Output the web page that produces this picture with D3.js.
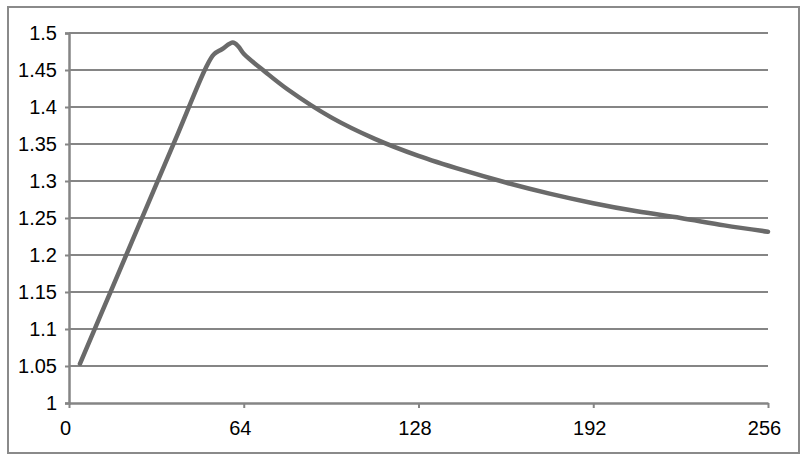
<!DOCTYPE html>
<html>
<head>
<meta charset="utf-8">
<script src="https://cdn.jsdelivr.net/npm/d3@7"></script>
<style>
  html, body { margin: 0; padding: 0; background: #fff; }
  svg { display: block; }
  text { font-family: "Liberation Sans", Arial, sans-serif; fill: #000; }
</style>
</head>
<body>
<svg id="chart" width="803" height="455"></svg>
<script>
// Data
const xValues = [4, 16, 28, 40, 50, 53, 56, 60, 62, 64, 72, 80, 96, 112, 128, 144, 160, 176, 192, 208, 224, 240, 256];
const yValues = [1.053, 1.157, 1.261, 1.365, 1.452, 1.471, 1.478, 1.487, 1.482, 1.472, 1.447, 1.424, 1.386, 1.357, 1.334, 1.315, 1.298, 1.283, 1.270, 1.259, 1.250, 1.240, 1.2315];
const xTicks = [0, 64, 128, 192, 256];
const yTicks = [1, 1.05, 1.1, 1.15, 1.2, 1.25, 1.3, 1.35, 1.4, 1.45, 1.5];

const svg = d3.select("#chart");
const plot = { left: 69, right: 768, top: 33, bottom: 403 };

// outer border
svg.append("rect")
  .attr("x", 8).attr("y", 7)
  .attr("width", 791).attr("height", 446)
  .attr("fill", "none").attr("stroke", "#8a8a8a").attr("stroke-width", 2);

const x = d3.scaleLinear().domain([0, 256]).range([plot.left, plot.right]);
const y = d3.scaleLinear().domain([1, 1.5]).range([plot.bottom, plot.top]);

const gridColor = "#858585";

// gridlines
svg.append("g").selectAll("line")
  .data(yTicks.filter(d => d !== 1))
  .join("line")
  .attr("x1", plot.left).attr("x2", plot.right)
  .attr("y1", d => y(d)).attr("y2", d => y(d))
  .attr("stroke", gridColor).attr("stroke-width", 2);

// y axis
const yAxis = d3.axisLeft(y).tickValues(yTicks).tickSize(4).tickPadding(8)
  .tickFormat(d => d3.format("")(+d.toFixed(2)));
const gy = svg.append("g").attr("transform", `translate(${plot.left},0)`).call(yAxis);
gy.select(".domain").attr("stroke", gridColor).attr("stroke-width", 2.5);
gy.selectAll(".tick line").attr("stroke", gridColor).attr("stroke-width", 2);
gy.selectAll(".tick text").style("font-size", "20px").attr("fill", "#000").attr("dy", "0.33em");

// x axis
const xAxis = d3.axisBottom(x).tickValues(xTicks).tickSize(5).tickPadding(13).tickSizeOuter(0);
const gx = svg.append("g").attr("transform", `translate(0,${plot.bottom})`).call(xAxis);
gx.select(".domain").attr("stroke", gridColor).attr("stroke-width", 2.5);
gx.selectAll(".tick line").attr("stroke", gridColor).attr("stroke-width", 2);
gx.selectAll(".tick text").style("font-size", "20px").attr("fill", "#000").attr("dx", "-4");

// line
const data = xValues.map((v, i) => [v, yValues[i]]);
const line = d3.line().x(d => x(d[0])).y(d => y(d[1])).curve(d3.curveCatmullRom.alpha(0.5));
svg.append("path")
  .datum(data)
  .attr("d", line)
  .attr("fill", "none")
  .attr("stroke", "#6a6a6a")
  .attr("stroke-width", 4.5)
  .attr("stroke-linejoin", "round")
  .attr("stroke-linecap", "round");
</script>
</body>
</html>
